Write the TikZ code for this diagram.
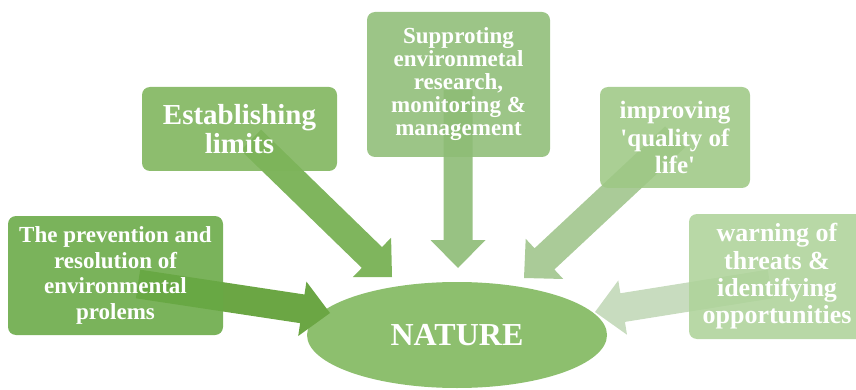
\documentclass[tikz,border=0pt]{standalone}
\usepackage{fontspec}
\setmainfont{Liberation Serif}
\usetikzlibrary{calc,shapes.geometric}

% fills
\definecolor{natfill}{RGB}{141,191,110}
\definecolor{boxA}{RGB}{104,169,68}
\definecolor{boxB}{RGB}{125,180,90}
\definecolor{boxC}{RGB}{142,189,118}
\definecolor{boxD}{RGB}{158,200,133}
\definecolor{boxE}{RGB}{174,211,154}
\definecolor{arrA}{RGB}{107,166,68}
\definecolor{arrB}{RGB}{127,181,93}
\definecolor{arrC}{RGB}{152,194,131}
\definecolor{arrD}{RGB}{170,203,152}
\definecolor{arrE}{RGB}{200,220,191}

% wide block arrow from #2 (tail) to #3 (tip)
\newcommand\blockarrow[3][]{%
  \coordinate (ah) at ($(#3)!28pt!(#2)$);
  \fill[#1] ($(#2)!14.5pt!90:(#3)$) -- ($(ah)!14.5pt!90:(#3)$)
    -- ($(ah)!27.5pt!90:(#3)$) -- (#3) -- ($(ah)!27.5pt!-90:(#3)$)
    -- ($(ah)!14.5pt!-90:(#3)$) -- ($(#2)!14.5pt!-90:(#3)$) -- cycle;}

\tikzset{
  ideabox/.style={rectangle, rounded corners=8pt, inner sep=0pt,
    fill opacity=0.88, text opacity=1, text=white, align=center,
    font=\bfseries},
}

\begin{document}
\begin{tikzpicture}[x=1pt,y=-1pt]
\useasboundingbox (0,0) rectangle (856,390);

% centre
\node[ellipse, fill=natfill, minimum width=300pt, minimum height=106pt,
  inner sep=0pt, text=white, font=\bfseries\fontsize{32}{36}\selectfont]
  (nature) at (457,335) {NATURE};

% arrow tails and tips
\coordinate (t1) at (138,284);  \coordinate (p1) at (330,313);
\coordinate (t2) at (251,140);  \coordinate (p2) at (392,277);
\coordinate (t3) at (458,90);   \coordinate (p3) at (458,268);
\coordinate (t4) at (675,137);  \coordinate (p4) at (524,278);
\coordinate (t5) at (770,284);  \coordinate (p5) at (595,312);

\blockarrow[arrA]{t1}{p1}
\blockarrow[arrB]{t2}{p2}
\blockarrow[arrC]{t3}{p3}
\blockarrow[arrD]{t4}{p4}
\blockarrow[arrE]{t5}{p5}

% surrounding boxes
\node[ideabox, fill=boxA, minimum width=215pt, minimum height=119pt,
  font=\bfseries\fontsize{23}{25.5}\selectfont] (b1) at (115.5,275.5)
  {The prevention and\\resolution of\\environmental\\prolems};
\node[ideabox, fill=boxB, minimum width=195pt, minimum height=84pt,
  font=\bfseries\fontsize{29}{29.5}\selectfont] (b2) at (239.5,129)
  {Establishing\\limits};
\node[ideabox, fill=boxC, minimum width=183pt, minimum height=145pt,
  font=\bfseries\fontsize{23}{23}\selectfont] (b3) at (458.5,84.5)
  {Supproting\\environmetal\\research,\\monitoring \&\\management};
\node[ideabox, fill=boxD, minimum width=150pt, minimum height=101pt,
  font=\bfseries\fontsize{25}{27.5}\selectfont] (b4) at (675,137.5)
  {improving\\\textquotesingle quality of\\life\textquotesingle};
\node[ideabox, fill=boxE, minimum width=176pt, minimum height=125pt,
  font=\bfseries\fontsize{26}{27.3}\selectfont] (b5) at (777,276.5)
  {warning of\\threats \&\\identifying\\opportunities};
\end{tikzpicture}
\end{document}
